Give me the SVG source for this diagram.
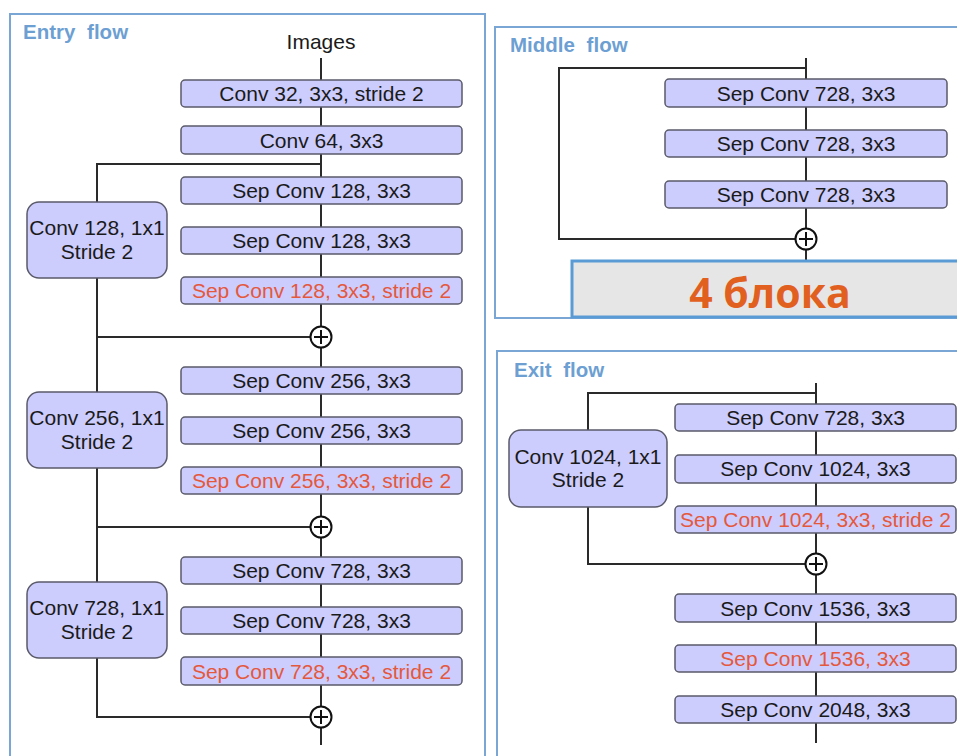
<svg xmlns="http://www.w3.org/2000/svg" width="957" height="756" viewBox="0 0 957 756">
<style>
.panel{fill:#fff;stroke:#7aa6d6;stroke-width:2}
.title{font-family:"Liberation Sans",Arial,sans-serif;font-weight:bold;font-size:20.5px;fill:#6d9fd3;word-spacing:6px}
.box{fill:#ccccfd;stroke:#5a5a6a;stroke-width:1.5}
.t{font-family:"Liberation Sans",Arial,sans-serif;font-size:21px;fill:#1a1a1a;text-anchor:middle}
.r{fill:#e4583c}
.ln{fill:none;stroke:#2a2a2a;stroke-width:2}
.plus circle{fill:#fff;stroke:#111;stroke-width:2}
.plus path{stroke:#111;stroke-width:2}
</style>
<rect width="957" height="756" fill="#fff"/>
<!-- panels -->
<rect class="panel" x="10" y="14" width="475" height="760"/>
<rect class="panel" x="495" y="27" width="480" height="291"/>
<rect class="panel" x="497" y="351" width="480" height="420"/>
<text class="title" x="23" y="39">Entry flow</text>
<text class="title" x="510" y="52">Middle flow</text>
<text class="title" x="514" y="377">Exit flow</text>

<g id="connectors">
<!-- entry -->
<path class="ln" d="M321 58 V745"/>
<path class="ln" d="M321 164 H97 V717 H321"/>
<path class="ln" d="M97 337 H321 M97 527 H321"/>
<!-- middle -->
<path class="ln" d="M806 58 V261"/>
<path class="ln" d="M806 68 H559 V239 H806"/>
<!-- exit -->
<path class="ln" d="M816 383 V743"/>
<path class="ln" d="M816 393 H588 V564 H816"/>
</g>

<!-- entry flow nodes -->
<text class="t" x="321" y="49">Images</text>
<g id="e1"><rect class="box" x="181" y="80" width="281" height="27" rx="4"/><text class="t" x="321.5" y="100.5">Conv 32, 3x3, stride 2</text></g>
<g id="e2"><rect class="box" x="181" y="126" width="281" height="28" rx="4"/><text class="t" x="321.5" y="147.5">Conv 64, 3x3</text></g>

<g id="e3"><rect class="box" x="181" y="177" width="281" height="27" rx="4"/><text class="t" x="321.5" y="197.5">Sep Conv 128, 3x3</text></g>
<g id="e4"><rect class="box" x="181" y="227" width="281" height="27" rx="4"/><text class="t" x="321.5" y="247.5">Sep Conv 128, 3x3</text></g>
<g id="e5"><rect class="box" x="181" y="277" width="281" height="27" rx="4"/><text class="t r" x="321.5" y="297.5">Sep Conv 128, 3x3, stride 2</text></g>
<g id="e6"><rect class="box" x="27" y="202" width="140" height="76" rx="12"/><text class="t" x="97" y="235">Conv 128, 1x1</text><text class="t" x="97" y="259">Stride 2</text></g>
<g id="p1" class="plus"><circle cx="321" cy="337" r="10.5"/><path d="M314 337 H328 M321 330 V344"/></g>

<g id="e7"><rect class="box" x="181" y="367" width="281" height="27" rx="4"/><text class="t" x="321.5" y="387.5">Sep Conv 256, 3x3</text></g>
<g id="e8"><rect class="box" x="181" y="417" width="281" height="27" rx="4"/><text class="t" x="321.5" y="437.5">Sep Conv 256, 3x3</text></g>
<g id="e9"><rect class="box" x="181" y="467" width="281" height="27" rx="4"/><text class="t r" x="321.5" y="487.5">Sep Conv 256, 3x3, stride 2</text></g>
<g id="e10"><rect class="box" x="27" y="392" width="140" height="76" rx="12"/><text class="t" x="97" y="425">Conv 256, 1x1</text><text class="t" x="97" y="449">Stride 2</text></g>
<g id="p2" class="plus"><circle cx="321" cy="527" r="10.5"/><path d="M314 527 H328 M321 520 V534"/></g>

<g id="e11"><rect class="box" x="181" y="557" width="281" height="27" rx="4"/><text class="t" x="321.5" y="577.5">Sep Conv 728, 3x3</text></g>
<g id="e12"><rect class="box" x="181" y="607" width="281" height="27" rx="4"/><text class="t" x="321.5" y="627.5">Sep Conv 728, 3x3</text></g>
<g id="e13"><rect class="box" x="181" y="657" width="281" height="28" rx="4"/><text class="t r" x="321.5" y="678.5">Sep Conv 728, 3x3, stride 2</text></g>
<g id="e14"><rect class="box" x="27" y="582" width="140" height="76" rx="12"/><text class="t" x="97" y="615">Conv 728, 1x1</text><text class="t" x="97" y="639">Stride 2</text></g>
<g id="p3" class="plus"><circle cx="321" cy="717" r="10.5"/><path d="M314 717 H328 M321 710 V724"/></g>

<!-- middle flow nodes -->
<g id="m1"><rect class="box" x="665" y="79" width="282" height="28" rx="4"/><text class="t" x="806" y="100.5">Sep Conv 728, 3x3</text></g>
<g id="m2"><rect class="box" x="665" y="130" width="282" height="27" rx="4"/><text class="t" x="806" y="150.5">Sep Conv 728, 3x3</text></g>
<g id="m3"><rect class="box" x="665" y="181" width="282" height="27" rx="4"/><text class="t" x="806" y="201.5">Sep Conv 728, 3x3</text></g>
<g id="p4" class="plus"><circle cx="806" cy="239" r="10.5"/><path d="M799 239 H813 M806 232 V246"/></g>
<g id="m4"><rect x="572" y="261" width="400" height="56" fill="#e6e6e6" stroke="#5b9bd5" stroke-width="3"/><text x="770" y="308" font-family="'Open Sans','Noto Sans',sans-serif" font-weight="bold" font-size="41" fill="#e2601f" text-anchor="middle">4 блока</text></g>

<!-- exit flow nodes -->
<g id="x1"><rect class="box" x="675" y="404" width="281" height="27" rx="4"/><text class="t" x="815.5" y="424.5">Sep Conv 728, 3x3</text></g>
<g id="x2"><rect class="box" x="675" y="455" width="281" height="28" rx="4"/><text class="t" x="815.5" y="475.5">Sep Conv 1024, 3x3</text></g>
<g id="x3"><rect class="box" x="675" y="506" width="281" height="27" rx="4"/><text class="t r" x="815.5" y="526.5">Sep Conv 1024, 3x3, stride 2</text></g>
<g id="x4"><rect class="box" x="509" y="430" width="158" height="77" rx="12"/><text class="t" x="588" y="464">Conv 1024, 1x1</text><text class="t" x="588" y="487">Stride 2</text></g>
<g id="p5" class="plus"><circle cx="816" cy="564" r="10.5"/><path d="M809 564 H823 M816 557 V571"/></g>
<g id="x5"><rect class="box" x="675" y="594" width="281" height="28" rx="4"/><text class="t" x="815.5" y="615.5">Sep Conv 1536, 3x3</text></g>
<g id="x6"><rect class="box" x="675" y="645" width="281" height="27" rx="4"/><text class="t r" x="815.5" y="665.5">Sep Conv 1536, 3x3</text></g>
<g id="x7"><rect class="box" x="675" y="696" width="281" height="27" rx="4"/><text class="t" x="815.5" y="716.5">Sep Conv 2048, 3x3</text></g>
</svg>
